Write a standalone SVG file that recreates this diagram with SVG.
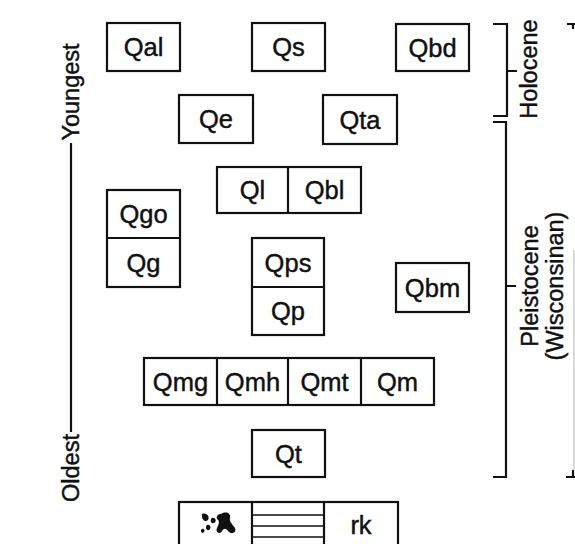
<svg xmlns="http://www.w3.org/2000/svg" width="575" height="544" viewBox="0 0 575 544">
<style>
rect.b{fill:#fff;stroke:#111;stroke-width:2.2}
line,path.l{stroke:#111;stroke-width:2.2;fill:none}
text{font-family:"Liberation Sans",Arial,sans-serif;font-size:25.5px;fill:#111;stroke:#111;stroke-width:0.45;text-anchor:middle}
text.s{font-size:23.5px}
</style>
<rect width="575" height="544" fill="#fff"/>
<g id="connectors">
<line x1="71" y1="143" x2="71" y2="432"/>
<path class="l" d="M493,24 H507 V116 H493 M507,71 H517"/>
<path class="l" d="M493,122 H506 V477 H493 M506,286 H516"/>
<path class="l" d="M567,24 H575 M573,24 V29 M566,477 H575 M573,477 V470"/>
<line x1="574" y1="250" x2="574" y2="470" style="stroke:#ccc;stroke-width:1.5"/>
</g>
<g id="labels">
<text class="s" transform="translate(79,92) rotate(-90)">Youngest</text>
<text class="s" transform="translate(79,468) rotate(-90)">Oldest</text>
<text class="s" transform="translate(537,69) rotate(-90)">Holocene</text>
<text class="s" transform="translate(538,286) rotate(-90)">Pleistocene</text>
<text class="s" transform="translate(563,286) rotate(-90)">(Wisconsinan)</text>
</g>
<g id="Qal"><rect class="b" x="107" y="23" width="73" height="48"/><text x="143.5" y="56">Qal</text></g>
<g id="Qs"><rect class="b" x="252" y="23" width="73" height="48"/><text x="288.5" y="56">Qs</text></g>
<g id="Qbd"><rect class="b" x="396" y="24" width="73" height="47"/><text x="432.5" y="56.5">Qbd</text></g>
<g id="Qe"><rect class="b" x="179" y="95" width="74" height="48"/><text x="216" y="128">Qe</text></g>
<g id="Qta"><rect class="b" x="323" y="95" width="74" height="49"/><text x="360" y="128.5">Qta</text></g>
<g id="Ql-Qbl"><rect class="b" x="217" y="167" width="144" height="46"/><line x1="288" y1="167" x2="288" y2="213"/><text x="252.5" y="199">Ql</text><text x="324.5" y="199">Qbl</text></g>
<g id="Qgo-Qg"><rect class="b" x="107" y="190" width="73" height="97"/><line x1="107" y1="238" x2="180" y2="238"/><text x="143.5" y="223">Qgo</text><text x="143.5" y="271.5">Qg</text></g>
<g id="Qps-Qp"><rect class="b" x="252" y="238" width="72" height="97"/><line x1="252" y1="287" x2="324" y2="287"/><text x="288" y="271.5">Qps</text><text x="288" y="320">Qp</text></g>
<g id="Qbm"><rect class="b" x="396" y="263" width="73" height="49"/><text x="432.5" y="296.5">Qbm</text></g>
<g id="Qm-row"><rect class="b" x="144" y="358" width="290" height="47"/><line x1="217" y1="358" x2="217" y2="405"/><line x1="288" y1="358" x2="288" y2="405"/><line x1="361" y1="358" x2="361" y2="405"/><text x="180.5" y="390.5">Qmg</text><text x="252.5" y="390.5">Qmh</text><text x="324.5" y="390.5">Qmt</text><text x="397.5" y="390.5">Qm</text></g>
<g id="Qt"><rect class="b" x="252" y="430" width="73" height="47"/><text x="288.5" y="462.5">Qt</text></g>
<g id="rk"><rect class="b" x="179" y="502" width="219" height="50"/><line x1="252" y1="502" x2="252" y2="552"/><line x1="324" y1="502" x2="324" y2="552"/>
<line x1="252" y1="515" x2="324" y2="515" style="stroke-width:1.4"/><line x1="252" y1="526" x2="324" y2="526" style="stroke-width:1.4"/><line x1="252" y1="537" x2="324" y2="537" style="stroke-width:1.4"/>
<path d="M221,514 C226,511 231,513 230,518 C229,521 232,524 235,528 C237,533 231,535 228,531 C226,528 224,528 222,531 C220,535 215,532 217,528 C219,524 220,521 217,519 C216,516 218,514 221,514 Z" fill="#111"/>
<path d="M202,514 C207,512 210,517 208,520 C205,523 201,519 202,514 Z" fill="#111"/>
<path d="M212,518 C216,517 217,522 214,523 C210,524 210,519 212,518 Z" fill="#111"/>
<path d="M207,525 C210,524 212,528 209,530 C206,531 205,527 207,525 Z" fill="#111"/>
<path d="M202,529 C204,528 206,531 203,533 C201,533 200,530 202,529 Z" fill="#111"/>
<text x="361" y="534">rk</text></g>
</svg>
